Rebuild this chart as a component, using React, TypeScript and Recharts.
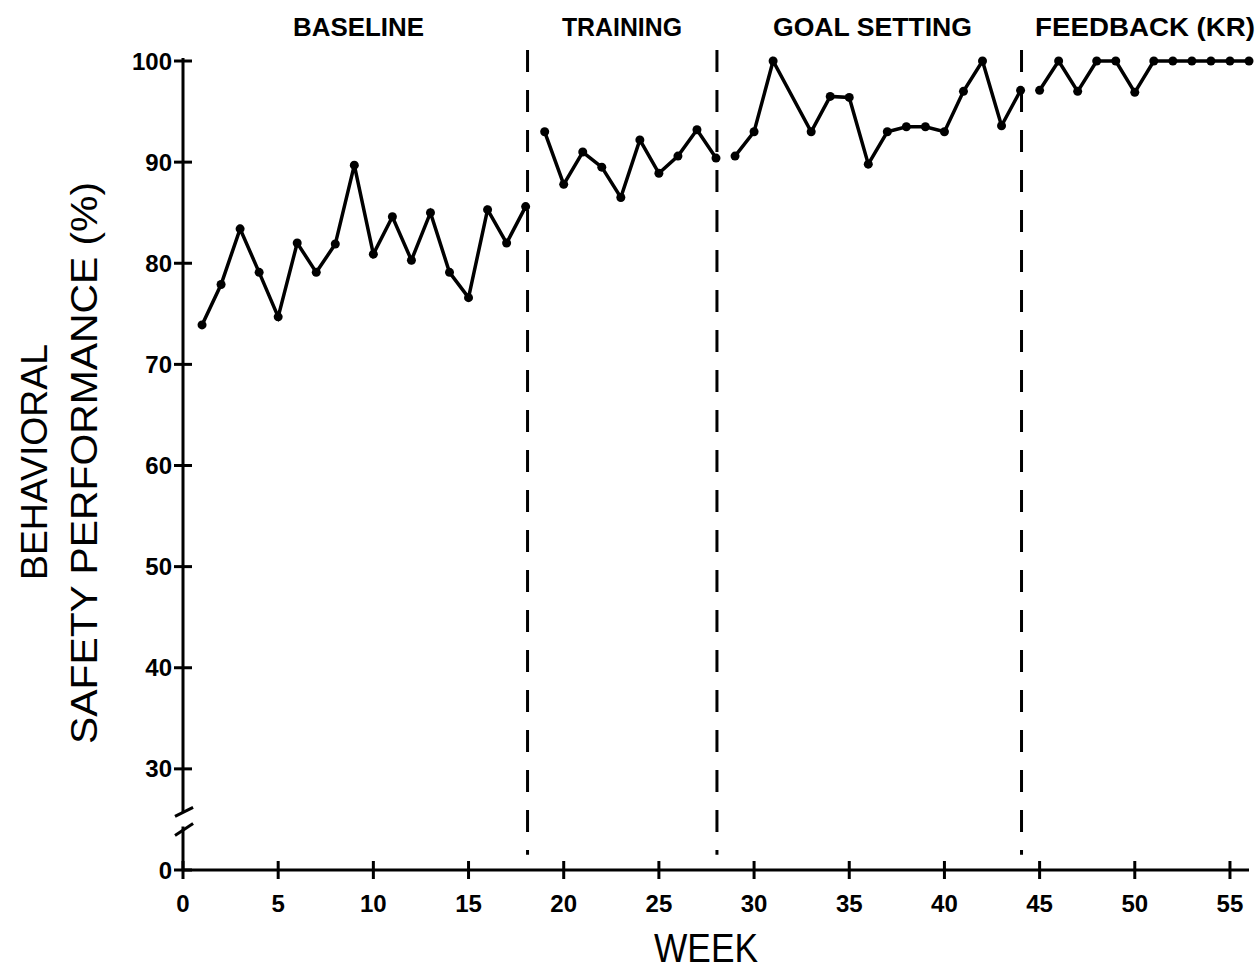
import React from 'react';
import { LineChart, Line, XAxis, YAxis, ReferenceLine } from 'recharts';

// ---- Data ----
const weeks = [
  1, 2, 3, 4, 5, 6, 7, 8, 9, 10, 11, 12, 13, 14, 15, 16, 17, 18, 19, 20,
  21, 22, 23, 24, 25, 26, 27, 28, 29, 30, 31, 32, 33, 34, 35, 36, 37, 38, 39, 40,
  41, 42, 43, 44, 45, 46, 47, 48, 49, 50, 51, 52, 53, 54, 55, 56,
];
// weeks 1-18
const baselineValues = [73.9, 77.9, 83.4, 79.1, 74.7, 82.0, 79.1, 81.9, 89.7, 80.9, 84.6, 80.3, 85.0, 79.1, 76.6, 85.3, 82.0, 85.6];
// weeks 19-28
const trainingValues = [93.0, 87.8, 91.0, 89.5, 86.5, 92.2, 88.9, 90.6, 93.2, 90.4];
// weeks 29-44 (week 32 not recorded)
const goalSettingValues = [90.6, 93.0, 100, null, 93.0, 96.5, 96.4, 89.8, 93.0, 93.5, 93.5, 93.0, 97.0, 100, 93.6, 97.1];
// weeks 45-56
const feedbackValues = [97.1, 100, 97.0, 100, 100, 96.9, 100, 100, 100, 100, 100, 100];

const phaseStartWeeks = [1, 19, 29, 45];
const phaseKeys = ['baseline', 'training', 'goal', 'feedback'];
const phaseNames = ['BASELINE', 'TRAINING', 'GOAL SETTING', 'FEEDBACK (KR)'];
const phaseLabelWeeks = [9.22, 23.06, 36.22, 50.54];
const phaseBoundaryWeeks = [18.1, 28.05, 44.05];

const xTicks = [0, 5, 10, 15, 20, 25, 30, 35, 40, 45, 50, 55];
// the axis is broken: the lowest tick (plotted at 20) stands for 0
const yTicks = [20, 30, 40, 50, 60, 70, 80, 90, 100];
const yTickLabels = ['0', '30', '40', '50', '60', '70', '80', '90', '100'];

const phaseValues = [baselineValues, trainingValues, goalSettingValues, feedbackValues];

const rows: Record<string, number | null>[] = weeks.map((w) => ({ week: w }));
phaseValues.forEach((vals, i) => {
  vals.forEach((v, j) => {
    const idx = weeks.indexOf(phaseStartWeeks[i] + j);
    rows[idx][phaseKeys[i]] = v;
  });
});

// ---- Styles ----
const FONT = '"Liberation Sans", Arial, sans-serif';
const INK = '#000';
const phaseLabelWidths = [131, 120, 199, 220];

const YTick = (props: any) => {
  const { x, y, payload } = props;
  const label = yTickLabels[yTicks.indexOf(payload.value)];
  return (
    <g>
      <line x1={x - 9} x2={x + 9} y1={y} y2={y} stroke={INK} strokeWidth={3} />
      <text x={x - 11} y={y} textAnchor="end" dominantBaseline="central" fontFamily={FONT} fontWeight="bold" fontSize={24} fill={INK}>
        {label}
      </text>
    </g>
  );
};

const XTick = (props: any) => {
  const { x, y, payload } = props;
  return (
    <g>
      <line x1={x} x2={x} y1={y - 9} y2={y + 9} stroke={INK} strokeWidth={3} />
      <text x={x} y={y + 33} textAnchor="middle" dominantBaseline="central" fontFamily={FONT} fontWeight="bold" fontSize={24} fill={INK}>
        {payload.value}
      </text>
    </g>
  );
};

const PhaseTick = (props: any) => {
  const { x, y, payload } = props;
  const i = phaseLabelWeeks.indexOf(payload.value);
  const w = phaseLabelWidths[i];
  return (
    <text x={x - w / 2} y={y - 34} textAnchor="start" dominantBaseline="central" fontFamily={FONT} fontWeight="bold" fontSize={25}
      fill={INK} textLength={w} lengthAdjust="spacingAndGlyphs">
      {phaseNames[i]}
    </text>
  );
};

const YTitle = () => (
  <g>
    <text transform="translate(34,580) rotate(-90)" textAnchor="start" dominantBaseline="central" fontFamily={FONT}
      fontSize={36} fill={INK} textLength={236} lengthAdjust="spacingAndGlyphs">BEHAVIORAL</text>
    <text transform="translate(84,744) rotate(-90)" textAnchor="start" dominantBaseline="central" fontFamily={FONT}
      fontSize={36} fill={INK} textLength={562} lengthAdjust="spacingAndGlyphs">SAFETY PERFORMANCE (%)</text>
  </g>
);

const XTitle = () => (
  <text x={654} y={948} textAnchor="start" dominantBaseline="central" fontFamily={FONT} fontSize={41} fill={INK}
    textLength={104} lengthAdjust="spacingAndGlyphs">WEEK</text>
);

export default function App() {
  return (
    <div style={{ position: 'absolute', left: 0, top: 0, width: 1259, height: 970, background: '#fff', overflow: 'hidden' }}>
      <LineChart width={1259} height={970} data={rows} margin={{ top: 0, right: 10, bottom: 0, left: 0 }}>
        <XAxis dataKey="week" type="number" domain={[0, 56]} ticks={xTicks} interval={0} height={100}
          axisLine={{ stroke: INK, strokeWidth: 3 }} tickLine={false} tickSize={0} tickMargin={0}
          tick={<XTick />} label={<XTitle />} />
        <XAxis xAxisId="top" dataKey="week" orientation="top" type="number" domain={[0, 56]} ticks={phaseLabelWeeks} interval={0} height={61}
          axisLine={false} tickLine={false} tickSize={0} tickMargin={0} tick={<PhaseTick />} />
        <YAxis type="number" domain={[20, 100]} ticks={yTicks} interval={0} width={183}
          axisLine={false} tickLine={false} tickSize={0} tickMargin={0} tick={<YTick />} label={<YTitle />} />

        {/* broken y axis */}
        <ReferenceLine segment={[{ x: 0, y: 100.3 }, { x: 0, y: 25.7 }]} stroke={INK} strokeWidth={3} ifOverflow="visible" />
        <ReferenceLine segment={[{ x: 0.53, y: 26.2 }, { x: -0.42, y: 25.3 }]} stroke={INK} strokeWidth={3} ifOverflow="visible" />
        <ReferenceLine segment={[{ x: -0.42, y: 23.4 }, { x: 0.53, y: 24.6 }]} stroke={INK} strokeWidth={3} ifOverflow="visible" />
        <ReferenceLine segment={[{ x: 0, y: 24.3 }, { x: 0, y: 20 }]} stroke={INK} strokeWidth={3} ifOverflow="visible" />

        {phaseBoundaryWeeks.map((w) => (
          <ReferenceLine key={w} segment={[{ x: w, y: 101.1 }, { x: w, y: 21.5 }]} stroke={INK} strokeWidth={3}
            strokeDasharray="22 18" ifOverflow="visible" />
        ))}

        {phaseKeys.map((k) => (
          <Line key={k} type="linear" dataKey={k} stroke={INK} strokeWidth={3.5} connectNulls={k === 'goal'}
            dot={{ r: 4.5, fill: INK, stroke: INK, strokeWidth: 0 }} activeDot={false} isAnimationActive={false} />
        ))}
      </LineChart>
    </div>
  );
}
